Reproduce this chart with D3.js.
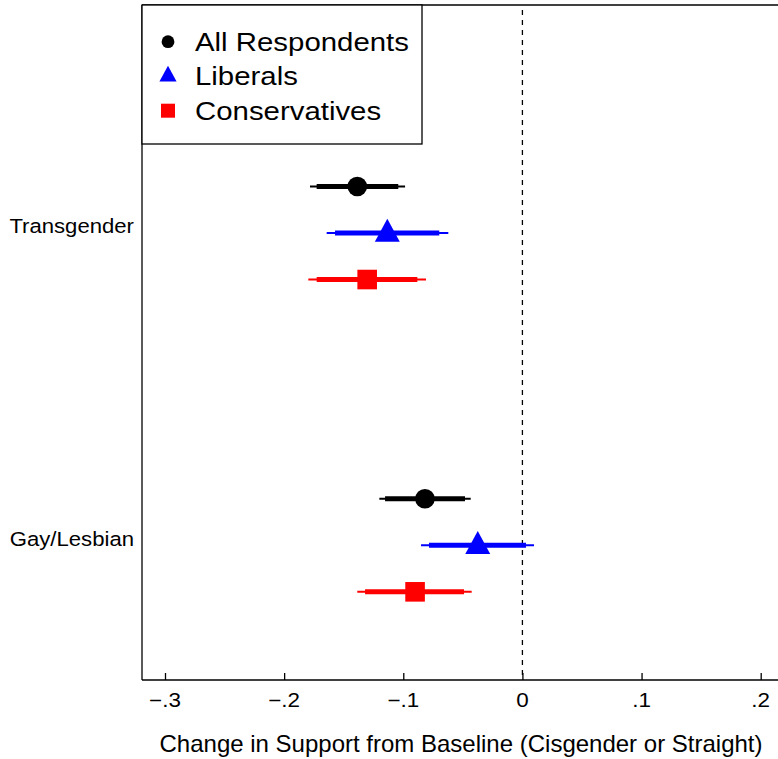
<!DOCTYPE html>
<html><head><meta charset="utf-8">
<script src="https://cdn.jsdelivr.net/npm/d3@7"></script>
<style>html,body{margin:0;padding:0;background:#fff;} svg{display:block;}</style>
</head><body>
<svg id="chart" width="778" height="759"></svg>
<script>
// ---- data ----
const categories = ["Transgender", "Gay/Lesbian"];
const series = ["All Respondents", "Liberals", "Conservatives"];
const seriesColors = ["#000000", "#0000ff", "#ff0000"];
const seriesShapes = ["circle", "triangle", "square"];
// estimates per series, order follows categories
const estAll = [-0.1386, -0.0818];
const estLib = [-0.1134, -0.0375];
const estCon = [-0.1303, -0.0901];
// 95% intervals (thin)
const lo95All = [-0.1783, -0.1201], hi95All = [-0.0985, -0.0434];
const lo95Lib = [-0.1643, -0.0851], hi95Lib = [-0.0622, 0.0097];
const lo95Con = [-0.1797, -0.1386], hi95Con = [-0.0809, -0.0426];
// 90% intervals (thick)
const lo90All = [-0.1727, -0.1153], hi90All = [-0.1042, -0.0482];
const lo90Lib = [-0.1573, -0.0784], hi90Lib = [-0.0698, 0.0030];
const lo90Con = [-0.1727, -0.1321], hi90Con = [-0.0882, -0.0490];
const xTicks = [-0.3, -0.2, -0.1, 0, 0.1, 0.2];
const xTickLabels = ["\u2212.3", "\u2212.2", "\u2212.1", "0", ".1", ".2"];
const xTitle = "Change in Support from Baseline (Cisgender or Straight)";

const est = [estAll, estLib, estCon];
const lo95 = [lo95All, lo95Lib, lo95Con], hi95 = [hi95All, hi95Lib, hi95Con];
const lo90 = [lo90All, lo90Lib, lo90Con], hi90 = [hi90All, hi90Lib, hi90Con];

(function () {
// ---- layout ----
const svg = d3.select("#chart");
const padL = 142, padB = 680, padT = 5;
const x = d3.scaleLinear().domain([-0.3, 0.2]).range([165, 760.7]);
// category positions: Transgender = 2, Gay/Lesbian = 1
const catPos = [2, 1];
const y = d3.scaleLinear().domain([1, 2]).range([545.3, 233]);
const offset = 0.149; // series offset in category units
const FONT = "'Liberation Sans', Arial, Helvetica, sans-serif";

function txt(g, str, tx, ty, size, anchor, sx) {
  return g.append("text").attr("transform", `translate(${tx},${ty}) scale(${sx},1)`)
    .attr("text-anchor", anchor).attr("font-family", FONT).attr("font-size", size)
    .attr("fill", "#000").text(str);
}

// frame: left, top lines
svg.append("line").attr("x1", padL).attr("x2", padL).attr("y1", padT).attr("y2", padB)
  .attr("stroke", "#000").attr("stroke-width", 1.3);
svg.append("line").attr("x1", padL).attr("x2", 778).attr("y1", padT).attr("y2", padT)
  .attr("stroke", "#000").attr("stroke-width", 1.3);

// x axis
const xAxis = d3.axisBottom(x).tickValues(xTicks).tickSize(-7).tickFormat(() => "");
const ax = svg.append("g").attr("transform", `translate(0,${padB})`).call(xAxis);
ax.select(".domain").attr("d", `M${padL},0H778`).attr("stroke", "#000").attr("stroke-width", 1.3);
ax.selectAll(".tick line").attr("stroke", "#000").attr("stroke-width", 1.3);
xTicks.forEach((t, i) => txt(svg, xTickLabels[i], x(t), 707, 19.5, "middle", 1.15));
txt(svg, xTitle, 461, 751.5, 24, "middle", 1.0);

// zero reference line
svg.append("line").attr("x1", x(0)).attr("x2", x(0)).attr("y1", 10).attr("y2", padB)
  .attr("stroke", "#000").attr("stroke-width", 1.3).attr("stroke-dasharray", "5,5");

// y labels
categories.forEach((c, i) => txt(svg, c, 134, y(catPos[i]) + 0.3, 19.5, "end", 1.135));

function marker(g, shape, cx, cy, s, color) {
  if (shape === "circle") {
    g.append("circle").attr("cx", cx).attr("cy", cy).attr("r", s).attr("fill", color);
  } else if (shape === "triangle") {
    const w = s * 2.6, h = s * 2.4;
    g.append("path").attr("d", `M${cx},${cy - h * 0.62}L${cx + w / 2},${cy + h * 0.38}L${cx - w / 2},${cy + h * 0.38}Z`)
      .attr("fill", color);
  } else {
    g.append("rect").attr("x", cx - s).attr("y", cy - s).attr("width", 2 * s).attr("height", 2 * s)
      .attr("fill", color);
  }
}

// points + intervals
const pg = svg.append("g");
categories.forEach((c, ci) => {
  series.forEach((s, si) => {
    const yy = y(catPos[ci] + offset * (1 - si));
    const col = seriesColors[si];
    pg.append("line").attr("x1", x(lo95[si][ci])).attr("x2", x(hi95[si][ci]))
      .attr("y1", yy).attr("y2", yy).attr("stroke", col).attr("stroke-width", 2);
    pg.append("line").attr("x1", x(lo90[si][ci])).attr("x2", x(hi90[si][ci]))
      .attr("y1", yy).attr("y2", yy).attr("stroke", col).attr("stroke-width", 5);
    marker(pg, seriesShapes[si], x(est[si][ci]), yy, si === 1 ? 9.6 : 9.8, col);
  });
});

// legend
const lg = svg.append("g");
lg.append("rect").attr("x", padL).attr("y", padT).attr("width", 280).attr("height", 139)
  .attr("fill", "#fff").attr("stroke", "#000").attr("stroke-width", 1.3);
const legY = [41.7, 75.5, 110.7];
series.forEach((s, i) => {
  marker(lg, seriesShapes[i], 168, legY[i], i === 0 ? 6.4 : (i === 1 ? 6.6 : 7), seriesColors[i]);
  txt(lg, s, 195, legY[i] + 9, 25.6, "start", 1.148);
});
})();
</script>
</body></html>
